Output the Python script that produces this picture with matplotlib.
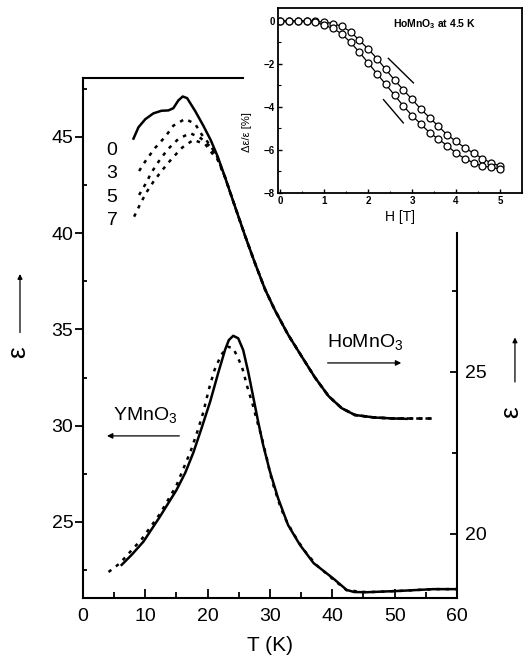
import matplotlib

matplotlib.use("Agg")
import matplotlib.pyplot as plt
from matplotlib.ticker import FixedLocator, MultipleLocator

plt.rcParams["font.family"] = ["Liberation Sans", "DejaVu Sans"]
plt.rcParams["mathtext.fontset"] = "custom"
plt.rcParams["mathtext.rm"] = "Liberation Sans"
plt.rcParams["mathtext.it"] = "Liberation Sans:italic"
plt.rcParams["mathtext.bf"] = "Liberation Sans:bold"

# HoMnO3, eps(T) at H = 0 T (right axis)
ho_T0 = [8.1, 8.9, 10.0, 11.3, 12.6, 13.7, 14.5, 15.3, 16.0, 16.7, 18.0, 19.3, 20.5, 21.6, 22.8, 24.3,
         26.0, 27.6, 29.2, 30.8, 32.9, 35.1, 37.2, 39.4, 41.5, 43.6, 46.8, 50.0, 51.9]
ho_eps0 = [32.20, 32.55, 32.80, 32.98, 33.06, 33.07, 33.14, 33.38, 33.50, 33.45, 33.05, 32.60, 32.15,
           31.65, 31.00, 30.15, 29.20, 28.35, 27.55, 26.90, 26.15, 25.47, 24.83, 24.25, 23.88, 23.67,
           23.59, 23.56, 23.55]

# HoMnO3 in field: low-T part of each curve, then the common high-T part
ho_T3 = [9.0, 10.2, 11.6, 13.2, 14.5, 16.4, 18.0, 19.1, 20.4, 21.5]
ho_eps3 = [31.20, 31.56, 31.92, 32.26, 32.60, 32.81, 32.65, 32.31, 32.00, 31.65]
ho_T5 = [9.0, 10.0, 11.0, 12.2, 13.6, 15.3, 17.2, 18.9, 20.4, 21.5]
ho_eps5 = [30.46, 30.79, 31.16, 31.51, 31.87, 32.19, 32.37, 32.21, 31.96, 31.62]
ho_T7 = [8.2, 9.1, 10.1, 11.3, 12.6, 14.2, 15.9, 17.7, 19.6, 20.9, 21.6]
ho_eps7 = [29.79, 30.15, 30.52, 30.87, 31.20, 31.57, 31.92, 32.16, 32.03, 31.70, 31.55]
ho_tail_T = [22.8, 24.3, 26.0, 27.6, 29.2, 30.8, 32.9, 35.1, 37.2, 39.4, 41.5, 43.6, 46.8, 50.0, 53.3, 55.9]
ho_tail_eps = [31.00, 30.15, 29.20, 28.35, 27.55, 26.90, 26.15, 25.47, 24.83, 24.25, 23.88, 23.67, 23.59,
               23.56, 23.56, 23.56]

# YMnO3 (left axis): solid and dotted run
y_T0 = [6.2, 7.8, 9.7, 12.35, 15.0, 16.4, 17.7, 19.0, 20.4, 21.7, 22.8, 23.4, 24.1, 24.9, 25.7, 26.5,
        27.3, 28.1, 28.9, 30.0, 31.3, 32.9, 34.8, 37.0, 40.2, 42.3, 43.5, 45.5, 50.9, 56.2, 60.0]
y_eps0 = [22.77, 23.29, 23.98, 25.28, 26.66, 27.55, 28.60, 29.85, 31.25, 32.75, 33.95, 34.45, 34.67,
          34.54, 33.93, 32.80, 31.51, 30.21, 29.00, 27.61, 26.23, 24.84, 23.81, 22.86, 22.05, 21.47,
          21.36, 21.35, 21.42, 21.51, 21.51]
y_T1 = [4.1, 5.9, 9.4, 12.35, 15.0, 16.4, 17.3, 18.4, 19.3, 20.2, 21.1, 22.2, 23.3, 24.1, 24.7, 25.5,
        26.0, 26.5, 27.1, 27.6, 28.1, 28.6, 29.0, 29.5, 30.0, 30.5, 31.6, 32.4, 33.5, 34.5, 35.9, 37.5,
        40.2, 42.3, 45.5, 50.9, 56.2, 60.0]
y_eps1 = [22.40, 22.85, 24.10, 25.42, 26.90, 28.00, 28.70, 29.75, 30.70, 31.90, 32.90, 33.70, 34.10,
          34.02, 33.63, 33.06, 32.46, 31.85, 31.25, 30.64, 30.04, 29.50, 28.95, 28.30, 27.55, 26.95,
          25.85, 25.20, 24.55, 24.00, 23.35, 22.75, 22.00, 21.45, 21.35, 21.42, 21.51, 21.51]

field_labels = ["0", "3", "5", "7"]
field_label_y = [44.31, 43.12, 41.87, 40.68]

# inset: relative change of eps vs field at 4.5 K
H = [0.0, 0.2, 0.4, 0.6, 0.8, 1.0, 1.2, 1.4, 1.6, 1.8, 2.0, 2.2, 2.4, 2.6, 2.8, 3.0, 3.2, 3.4, 3.6,
     3.8, 4.0, 4.2, 4.4, 4.6, 4.8, 5.0]
d_up = [0.0, 0.0, 0.0, 0.0, -0.02, -0.05, -0.12, -0.25, -0.5, -0.9, -1.3, -1.75, -2.25, -2.75, -3.2,
        -3.65, -4.1, -4.5, -4.9, -5.3, -5.6, -5.9, -6.15, -6.4, -6.6, -6.75]
d_down = [0.0, 0.0, 0.0, -0.02, -0.06, -0.2, -0.35, -0.6, -1.0, -1.45, -1.95, -2.45, -2.95, -3.45, -3.95,
          -4.4, -4.8, -5.2, -5.5, -5.8, -6.15, -6.4, -6.6, -6.75, -6.8, -6.9]
sweep_up = ([2.46, 3.03], [-1.74, -2.88])
sweep_down = ([2.35, 2.80], [-3.66, -4.74])

LW = 1.8
DOTS = (0, (1.4, 2.3))

fig = plt.figure(figsize=(5.26, 6.68), dpi=100)
ax = fig.add_axes([0.1578, 0.1048, 0.711, 0.7784])
ax2 = ax.twinx()

ax.set_xlim(0, 60)
ax.set_ylim(21.05, 48.06)
ax2.set_ylim(18.02, 34.07)

ax.plot(y_T0, y_eps0, color="black", lw=LW)
ax.plot(y_T1, y_eps1, color="black", lw=LW, ls=DOTS)

ax2.plot(ho_T0, ho_eps0, color="black", lw=LW)
for t, e in [(ho_T3, ho_eps3), (ho_T5, ho_eps5), (ho_T7, ho_eps7)]:
    ax2.plot(t + ho_tail_T, e + ho_tail_eps, color="black", lw=LW, ls=DOTS)

# axes frame: the top and right lines stop where the inset sits
for side in ("top", "left", "bottom"):
    ax.spines[side].set_linewidth(1.5)
    ax2.spines[side].set_visible(False)
ax.spines["right"].set_visible(False)
ax.spines["top"].set_bounds(0, 25.7)
ax2.spines["right"].set_linewidth(1.5)
ax2.spines["right"].set_bounds(18.02, 29.29)

ax.set_xticks(range(0, 61, 10))
ax.xaxis.set_minor_locator(MultipleLocator(5))
ax.set_yticks([25, 30, 35, 40, 45])
ax.yaxis.set_minor_locator(MultipleLocator(2.5))
ax2.set_yticks([20, 25])
ax2.yaxis.set_minor_locator(FixedLocator([22.5, 27.5]))

ax.tick_params(axis="x", which="major", direction="in", length=6.5, width=1.3, labelsize=14, pad=7, top=False)
ax.tick_params(axis="x", which="minor", direction="in", length=4.5, width=1.3, top=False)
ax.tick_params(axis="y", which="major", direction="out", length=5.5, width=1.3, labelsize=14, pad=1.5,
               right=False)
ax.tick_params(axis="y", which="minor", direction="in", length=3.2, width=1.3, right=False)
ax2.tick_params(axis="y", which="major", direction="in", length=5, width=1.3, labelsize=14, pad=6)
ax2.tick_params(axis="y", which="minor", direction="in", length=3.5, width=1.3)

ax.set_xlabel("T (K)", fontsize=15, labelpad=8)

for lab, yv in zip(field_labels, field_label_y):
    ax.text(4.65, yv, lab, fontsize=14, ha="center", va="center")

ax.text(39.1, 34.09, "HoMnO$_3$", fontsize=14, ha="left", va="baseline")
ax.annotate("", xy=(51.5, 33.26), xytext=(38.8, 33.26),
            arrowprops=dict(arrowstyle="-|>", color="black", lw=0.9, mutation_scale=8))
ax.text(4.8, 30.3, "YMnO$_3$", fontsize=14, ha="left", va="baseline")
ax.annotate("", xy=(3.4, 29.47), xytext=(15.9, 29.47),
            arrowprops=dict(arrowstyle="-|>", color="black", lw=0.9, mutation_scale=8))

# eps labels with upward arrows on both sides
fig.text(0.035, 0.473, "ε", fontsize=19, rotation=90, ha="center", va="center")
ax.annotate("", xy=(0.038, 0.594), xytext=(0.038, 0.498), xycoords="figure fraction",
            arrowprops=dict(arrowstyle="-|>", color="black", lw=0.9, mutation_scale=7))
fig.text(0.972, 0.383, "ε", fontsize=19, rotation=90, ha="center", va="center")
ax.annotate("", xy=(0.979, 0.499), xytext=(0.979, 0.424), xycoords="figure fraction",
            arrowprops=dict(arrowstyle="-|>", color="black", lw=0.9, mutation_scale=7))

# inset
ins = fig.add_axes([0.5285, 0.7111, 0.4639, 0.2769])
ins.plot(H, d_up, color="black", lw=0.9, marker="o", ms=5, mfc="white", mec="black", mew=0.9)
ins.plot(H, d_down, color="black", lw=0.9, marker="o", ms=5, mfc="white", mec="black", mew=0.9)
ins.plot(*sweep_up, color="black", lw=1.0)
ins.plot(*sweep_down, color="black", lw=1.0)
ins.set_xlim(-0.05, 5.5)
ins.set_ylim(-8, 0.6)
ins.set_xticks(range(0, 6))
ins.xaxis.set_minor_locator(MultipleLocator(0.5))
ins.set_yticks([0, -2, -4, -6, -8])
ins.yaxis.set_minor_locator(MultipleLocator(1))
for s in ins.spines.values():
    s.set_linewidth(1.3)
ins.tick_params(which="major", direction="in", length=3, width=1.0, labelsize=7, pad=2)
ins.tick_params(which="minor", direction="in", length=1.8, width=0.8)
for lab in ins.get_xticklabels() + ins.get_yticklabels():
    lab.set_fontweight("bold")
ins.set_xlabel("H [T]", fontsize=10, labelpad=3)
ins.set_ylabel("Δε/ε [%]", fontsize=8)
ins.yaxis.set_label_coords(-0.105, 0.33)
ins.text(2.57, -0.15, r"HoMnO$_\mathbf{3}$ at 4.5 K", fontsize=7.5, fontweight="bold", ha="left", va="center")

fig.savefig("out.png", dpi=100)
